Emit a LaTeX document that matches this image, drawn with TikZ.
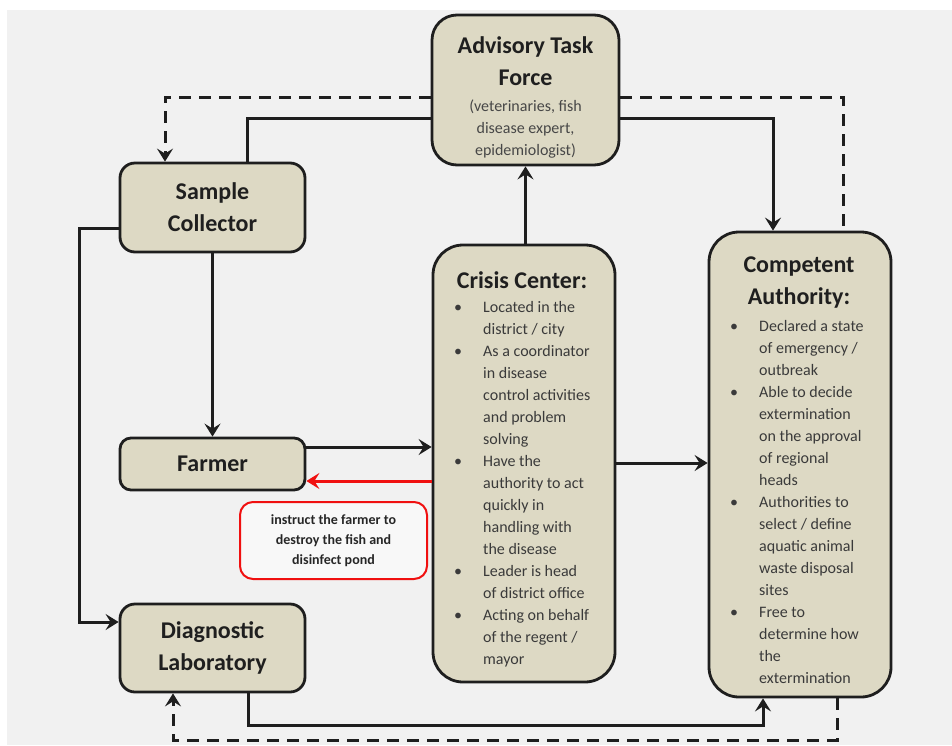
\documentclass[tikz,border=0pt]{standalone}
\usepackage{fontspec}
\setmainfont{Carlito}
\usetikzlibrary{arrows.meta,calc}
\definecolor{boxfill}{HTML}{DDD9C4}
\definecolor{bggray}{HTML}{F1F1F1}
\definecolor{edge}{HTML}{1E1E1E}
\definecolor{bodytxt}{HTML}{3A3A3A}
\definecolor{redline}{HTML}{F01010}
\tikzset{
  box/.style={draw=edge, line width=2.8pt, fill=boxfill, inner sep=0pt},
  ttl/.style={font=\fontsize{24}{32}\selectfont\bfseries, text=black!88, inner sep=0pt},
  body/.style={font=\fontsize{16}{22}\selectfont, text=bodytxt, inner sep=0pt},
  tip/.style={-{Stealth[length=13pt,width=16pt,inset=5pt]}},
  conn/.style={draw=edge, line width=3pt, tip},
  plainconn/.style={draw=edge, line width=3pt},
  dconn/.style={draw=edge, line width=3pt, dash pattern=on 12pt off 8pt},
}
\newcommand{\bul}{\makebox[29pt][l]{\textbullet}}
\newcommand{\ind}{\hspace*{29pt}}
\begin{document}
\begin{tikzpicture}[x=1pt,y=-1pt]
\useasboundingbox (0,0) rectangle (952,745);
\fill[white] (0,0) rectangle (952,745);
\fill[bggray] (7,10) rectangle (952,745);

% boxes
\node[box, rounded corners=25pt, minimum width=187pt, minimum height=150pt] (atf) at (525.5,90) {};
\node[box, rounded corners=15pt, minimum width=185pt, minimum height=89pt, ttl, align=center] (sc) at (212.5,207.5) {Sample\\Collector};
\node[box, rounded corners=11pt, minimum width=185pt, minimum height=52pt, ttl] (farmer) at (212.5,464) {Farmer};
\node[box, rounded corners=15pt, minimum width=185pt, minimum height=88pt, ttl, align=center] (diag) at (212.5,648) {Diagnostic\\Laboratory};
\node[draw=redline, line width=2pt, fill=bggray!50!white, rounded corners=13pt, minimum width=187pt, minimum height=77pt, inner sep=0pt,
      font=\fontsize{14}{20}\selectfont\bfseries, text=black!85, align=center] (instr) at (333.5,540.5) {instruct the farmer to\\destroy the fish and\\disinfect pond};
\node[box, rounded corners=30pt, minimum width=182pt, minimum height=437pt] (cc) at (524,463.5) {};
\node[box, rounded corners=30pt, minimum width=182pt, minimum height=465pt] (ca) at (800,464.5) {};

% ATF text
\node[ttl, anchor=base] (atft) at (525.5,53) {\begin{tabular}[t]{@{}c@{}}\fontsize{24}{33}\selectfont\bfseries Advisory Task\\ \fontsize{24}{33}\selectfont\bfseries Force\end{tabular}};
\node[body, anchor=base, text=black!72] (atfs) at (525.5,111) {\begin{tabular}[t]{@{}c@{}}(veterinaries, fish\\disease expert,\\epidemiologist)\end{tabular}};

% Crisis center text
\node[ttl, anchor=base] (cct) at (522,288) {Crisis Center:};
\node[body, anchor=base west] (ccl) at (454,312) {\begin{tabular}[t]{@{}l@{}}
\bul Located in the\\
\ind district / city\\
\bul As a coordinator\\
\ind in disease\\
\ind control activities\\
\ind and problem\\
\ind solving\\
\bul Have the\\
\ind authority to act\\
\ind quickly in\\
\ind handling with\\
\ind the disease\\
\bul Leader is head\\
\ind of district office\\
\bul Acting on behalf\\
\ind of the regent /\\
\ind mayor
\end{tabular}};

% Competent authority text
\node[ttl, anchor=base] (cat) at (799,272) {\begin{tabular}[t]{@{}c@{}}\fontsize{24}{33}\selectfont\bfseries Competent\\ \fontsize{24}{33}\selectfont\bfseries Authority:\end{tabular}};
\node[body, anchor=base west] (cal) at (730,331) {\begin{tabular}[t]{@{}l@{}}
\bul Declared a state\\
\ind of emergency /\\
\ind outbreak\\
\bul Able to decide\\
\ind extermination\\
\ind on the approval\\
\ind of regional\\
\ind heads\\
\bul Authorities to\\
\ind select / define\\
\ind aquatic animal\\
\ind waste disposal\\
\ind sites\\
\bul Free to\\
\ind determine how\\
\ind the\\
\ind extermination
\end{tabular}};

% coordinates
\coordinate (d1) at (165,97);
\coordinate (d2) at (843,97);
\coordinate (d3) at (837,740);
\coordinate (d4) at (173,740);
\coordinate (s1) at (247,118);
\coordinate (s2) at (773,118);
\coordinate (l1) at (79,228);
\coordinate (l2) at (79,622);
\coordinate (b1) at (248,725);
\coordinate (b2) at (763,725);

% dashed connectors
\draw[dconn, tip] (atf.west |- d1) -- (d1) -- (d1 |- sc.north);
\draw[dconn] (atf.east |- d2) -- (d2) -- (d2 |- ca.north);
\draw[dconn, tip] (d3 |- ca.south) -- (d3) -- (d4) -- (d4 |- diag.south);

% solid connectors
\draw[plainconn] (s1 |- sc.north) -- (s1) -- (atf.west |- s1);
\draw[conn] (atf.east |- s2) -- (s2) -- (s2 |- ca.north);
\draw[conn] (atf.south |- cc.north) -- (atf.south);
\draw[conn] (sc.west |- l1) -- (l1) -- (l2) -- (diag.west |- l2);
\draw[conn] (sc.south) -- (farmer.north);
\draw[conn] (farmer.east |- 0,447) -- (cc.west |- 0,447);
\draw[conn, draw=redline, -{Stealth[length=13pt,width=16pt,inset=5pt,fill=redline]}] (cc.west |- 0,481) -- (farmer.east |- 0,481);
\draw[conn] (cc.east |- 0,463) -- (ca.west |- 0,463);
\draw[conn] (b1 |- diag.south) -- (b1) -- (b2) -- (b2 |- ca.south);
\end{tikzpicture}
\end{document}
